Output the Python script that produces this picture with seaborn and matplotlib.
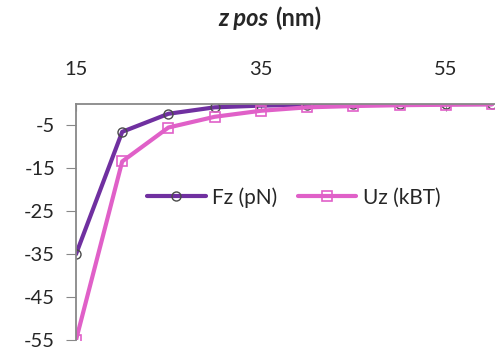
import pandas as pd
import matplotlib.pyplot as plt
import seaborn as sns

# values
z_pos = [15, 20, 25, 30, 35, 40, 45, 50, 55, 60]
fz_pn = [-35.0, -6.5, -2.3, -0.8, -0.4, -0.2, -0.1, -0.1, -0.05, -0.05]
uz_kbt = [-55.0, -13.4, -5.5, -3.0, -1.6, -0.8, -0.5, -0.3, -0.2, -0.1]
x_ticks = [15, 35, 55]
y_ticks = [-5, -15, -25, -35, -45, -55]

df = pd.DataFrame({'z': z_pos, 'Fz (pN)': fz_pn, 'Uz (kBT)': uz_kbt})

sns.set_style('white')
plt.rcParams['font.family'] = ['Lato', 'DejaVu Sans']
plt.rcParams['axes.unicode_minus'] = False

fig = plt.figure(figsize=(4.95, 3.51), dpi=100)
ax = fig.add_axes([0.1535, 0.031, 0.846, 0.673])

sns.lineplot(x='z', y='Fz (pN)', data=df, ax=ax, color='#7030A0', lw=3.0,
             marker='o', markersize=6.5, markerfacecolor='none',
             markeredgecolor='#4a4a4a', markeredgewidth=1.0, label='Fz (pN)')
sns.lineplot(x='z', y='Uz (kBT)', data=df, ax=ax, color='#E060C8', lw=3.0,
             marker='s', markersize=6.5, markerfacecolor='none',
             markeredgecolor='#E060C8', markeredgewidth=1.2, label='Uz (kBT)')

ax.set_xlim(15, 60.3)
ax.set_ylim(-55, 0)
ax.set_xticks(x_ticks)
ax.set_yticks(y_ticks)
ax.xaxis.tick_top()
ax.tick_params(axis='x', direction='in', length=5, pad=19, labelsize=14.5, color='#888888')
ax.tick_params(axis='y', direction='out', length=7, pad=8, labelsize=14.5, color='#888888', left=True)
ax.set_xlabel('')
ax.set_ylabel('')

for side in ['right', 'bottom']:
    ax.spines[side].set_visible(False)
for side in ['top', 'left']:
    ax.spines[side].set_color('#888888')
    ax.spines[side].set_linewidth(1.3)

# title made of an italic part and a normal part
fig.text(0.542, 0.948, 'z pos', ha='right', va='center', fontsize=17,
         fontweight='bold', fontstyle='italic')
fig.text(0.556, 0.948, '(nm)', ha='left', va='center', fontsize=17,
         fontweight='bold')

ax.legend(loc='center', bbox_to_anchor=(0.52, 0.605), ncol=2, frameon=False,
          fontsize=15, handlelength=2.8, columnspacing=1.0, handletextpad=0.3)

plt.savefig('out.png', dpi=100)
